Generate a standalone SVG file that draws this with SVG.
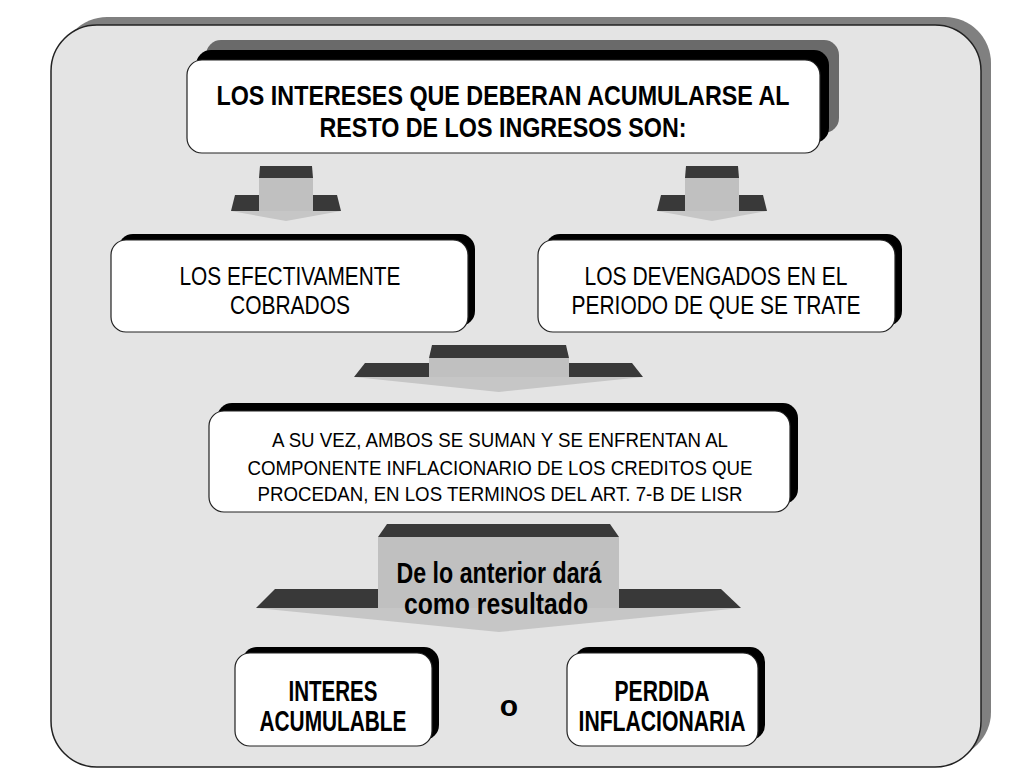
<svg xmlns="http://www.w3.org/2000/svg" width="1024" height="768" viewBox="0 0 1024 768">
<style>
.panel{fill:#e4e4e4;stroke:#222;stroke-width:1.5}
.pshadow{fill:#808080}
.box{fill:#fff;stroke:#222;stroke-width:1.2}
.sh1{fill:#000}
.sh2{fill:#6a6a6a}
.dark{fill:#393939}
.stem{fill:#c0c0c0}
.head{fill:#c6c6c6}
text{font-family:"Liberation Sans Narrow","Liberation Sans",Arial,sans-serif;fill:#000;text-anchor:middle}
.b{font-weight:bold}
</style>
<rect width="1024" height="768" fill="#fff"/>
<g id="panel">
<rect class="pshadow" x="61" y="17" width="930" height="741" rx="46"/>
<rect class="panel" x="51" y="25" width="930" height="742" rx="46"/>
</g>
<g id="connectors">
<g id="arrow-left">
<polygon class="dark" points="260,166 312,166 313,178 259,178"/>
<rect class="stem" x="259" y="178" width="54" height="33"/>
<polygon class="dark" points="235,195 259,195 259,211 231,211"/>
<polygon class="dark" points="313,195 337,195 341,211 313,211"/>
<polygon class="head" points="231,211 341,211 286,221"/>
</g>
<g id="arrow-right">
<polygon class="dark" points="686,166 738,166 739,178 685,178"/>
<rect class="stem" x="685" y="178" width="54" height="33"/>
<polygon class="dark" points="661,195 685,195 685,211 657,211"/>
<polygon class="dark" points="739,195 763,195 767,211 739,211"/>
<polygon class="head" points="657,211 767,211 712,221"/>
</g>
<g id="arrow-merge">
<polygon class="dark" points="432,345 566,345 569,358 429,358"/>
<rect class="stem" x="429" y="358" width="140" height="19"/>
<polygon class="dark" points="365,363 429,363 429,377 354,377"/>
<polygon class="dark" points="569,363 632,363 643,377 569,377"/>
<polygon class="head" points="354,377 643,377 499,392"/>
</g>
<g id="arrow-result">
<polygon class="dark" points="387,524 610,524 619,537 378,537"/>
<rect class="stem" x="378" y="537" width="241" height="71"/>
<polygon class="dark" points="275,589 378,589 378,608 256,608"/>
<polygon class="dark" points="619,589 721,589 741,608 619,608"/>
<polygon class="head" points="256,608 741,608 499,632"/>
<text class="b" x="499" y="583" font-size="29" textLength="205" lengthAdjust="spacingAndGlyphs">De lo anterior dará</text>
<text class="b" x="496" y="614" font-size="29" textLength="184" lengthAdjust="spacingAndGlyphs">como resultado</text>
</g>
</g>
<g id="node-top">
<rect class="sh2" x="206" y="40" width="633" height="93" rx="15"/>
<rect class="sh1" x="196" y="50" width="633" height="93" rx="15"/>
<rect class="box" x="187" y="60" width="633" height="93" rx="15"/>
<text class="b" x="503" y="105" font-size="28" textLength="573" lengthAdjust="spacingAndGlyphs">LOS INTERESES QUE DEBERAN ACUMULARSE AL</text>
<text class="b" x="503" y="137" font-size="28" textLength="367" lengthAdjust="spacingAndGlyphs">RESTO DE LOS INGRESOS SON:</text>
</g>
<g id="node-cobrados">
<rect class="sh1" x="118" y="234" width="357" height="92" rx="15"/>
<rect class="box" x="111" y="240" width="357" height="92" rx="15"/>
<text x="290" y="285" font-size="25" textLength="221" lengthAdjust="spacingAndGlyphs">LOS EFECTIVAMENTE</text>
<text x="290" y="314" font-size="25" textLength="120" lengthAdjust="spacingAndGlyphs">COBRADOS</text>
</g>
<g id="node-devengados">
<rect class="sh1" x="545" y="234" width="357" height="92" rx="15"/>
<rect class="box" x="538" y="240" width="357" height="92" rx="15"/>
<text x="716" y="285" font-size="25" textLength="263" lengthAdjust="spacingAndGlyphs">LOS DEVENGADOS EN EL</text>
<text x="716" y="314" font-size="25" textLength="289" lengthAdjust="spacingAndGlyphs">PERIODO DE QUE SE TRATE</text>
</g>
<g id="node-suman">
<rect class="sh1" x="217" y="403" width="581" height="101" rx="15"/>
<rect class="box" x="209" y="411" width="581" height="101" rx="15"/>
<text x="500" y="447" font-size="21" textLength="456" lengthAdjust="spacingAndGlyphs">A SU VEZ, AMBOS SE SUMAN Y SE ENFRENTAN AL</text>
<text x="500" y="475" font-size="21" textLength="505" lengthAdjust="spacingAndGlyphs">COMPONENTE INFLACIONARIO DE LOS CREDITOS QUE</text>
<text x="500" y="501" font-size="21" textLength="485" lengthAdjust="spacingAndGlyphs">PROCEDAN, EN LOS TERMINOS DEL ART. 7-B DE LISR</text>
</g>
<g id="node-interes">
<rect class="sh1" x="242" y="647" width="197" height="93" rx="15"/>
<rect class="box" x="235" y="653" width="197" height="93" rx="15"/>
<text class="b" x="333" y="701" font-size="29" textLength="89" lengthAdjust="spacingAndGlyphs">INTERES</text>
<text class="b" x="333" y="731" font-size="29" textLength="147" lengthAdjust="spacingAndGlyphs">ACUMULABLE</text>
</g>
<g id="node-o">
<text class="b" x="509" y="716" font-size="30">o</text>
</g>
<g id="node-perdida">
<rect class="sh1" x="574" y="647" width="191" height="93" rx="15"/>
<rect class="box" x="567" y="653" width="191" height="93" rx="15"/>
<text class="b" x="662" y="701" font-size="29" textLength="95" lengthAdjust="spacingAndGlyphs">PERDIDA</text>
<text class="b" x="662" y="731" font-size="29" textLength="167" lengthAdjust="spacingAndGlyphs">INFLACIONARIA</text>
</g>
</svg>
